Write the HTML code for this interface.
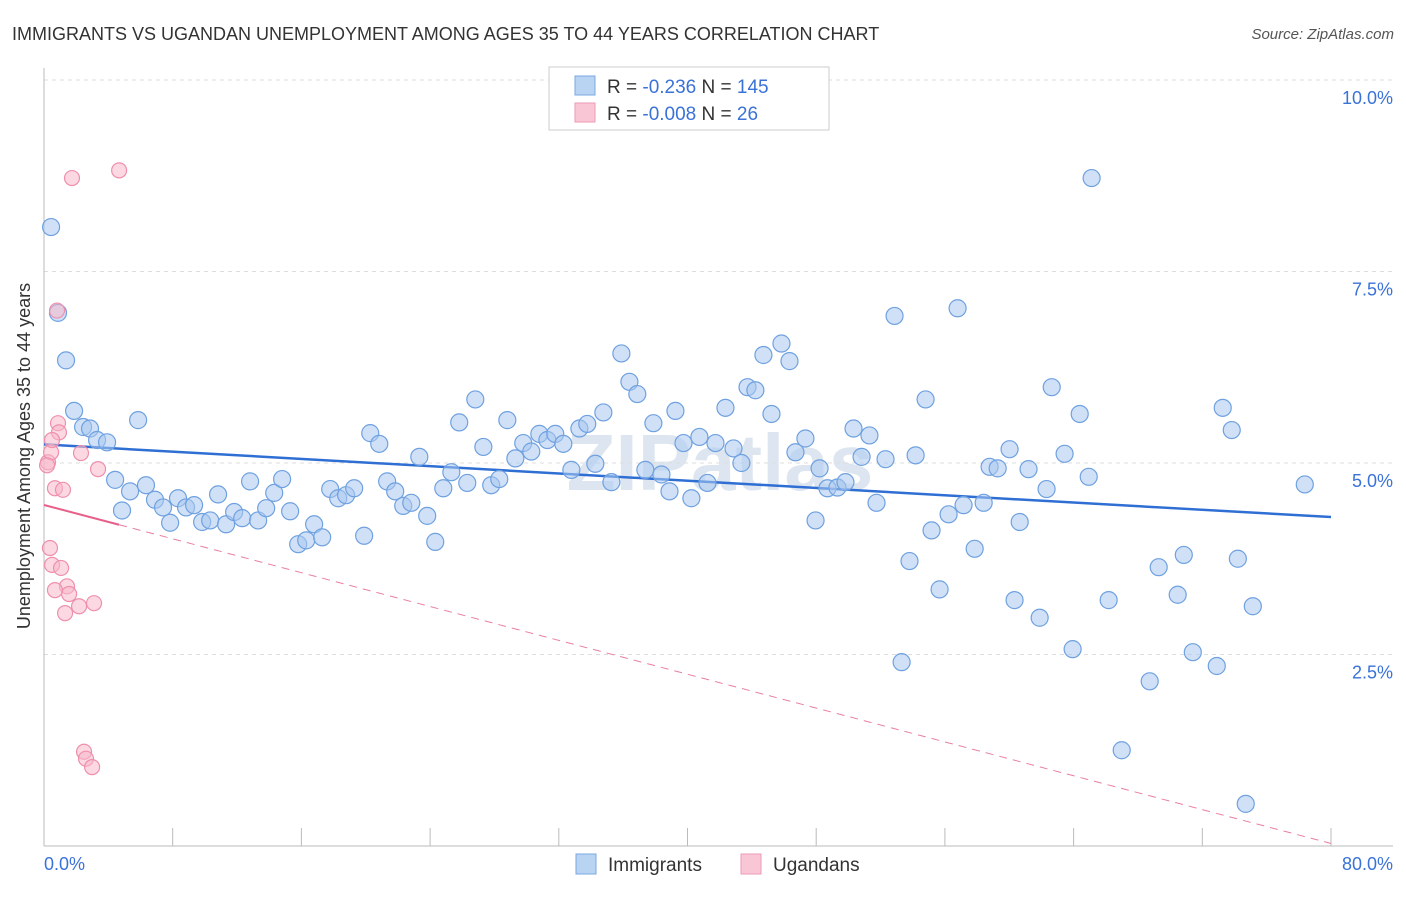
<!DOCTYPE html>
<html><head><meta charset="utf-8"><style>
body{margin:0;background:#fff;font-family:"Liberation Sans",sans-serif;}
</style></head><body>
<svg id="chart" width="1406" height="892" xmlns="http://www.w3.org/2000/svg" font-family="Liberation Sans, sans-serif">
<text x="12" y="40" font-size="18" fill="#333">IMMIGRANTS VS UGANDAN UNEMPLOYMENT AMONG AGES 35 TO 44 YEARS CORRELATION CHART</text>
<text x="1394" y="39" font-size="15" fill="#555" text-anchor="end" font-style="italic">Source: ZipAtlas.com</text>
<text x="30" y="456" font-size="18" fill="#333" text-anchor="middle" transform="rotate(-90 30 456)">Unemployment Among Ages 35 to 44 years</text>
<text x="720" y="490" font-size="80" fill="#dde6f0" text-anchor="middle" font-weight="bold">ZIPatlas</text>
<g id="grid"></g><g id="axes"></g><g id="trend"></g><g id="pts"></g>
<g>
<rect x="549" y="67" width="280" height="63" fill="#fff" stroke="#ccc"/>
<rect x="575" y="76" width="20" height="19" fill="#b9d3f3" stroke="#7aa8e0"/>
<text x="607" y="93" font-size="19" fill="#333">R = <tspan fill="#3a72d8">-0.236</tspan>   N = <tspan fill="#3a72d8">145</tspan></text>
<rect x="575" y="103" width="20" height="19" fill="#f9c6d5" stroke="#ef9ab5"/>
<text x="607" y="120" font-size="19" fill="#333">R = <tspan fill="#3a72d8">-0.008</tspan>   N =   <tspan fill="#3a72d8">26</tspan></text>
</g>
<g>
<rect x="576" y="854" width="20" height="20" fill="#b9d3f3" stroke="#7aa8e0"/>
<text x="608" y="871" font-size="19" fill="#333">Immigrants</text>
<rect x="741" y="854" width="20" height="20" fill="#f9c6d5" stroke="#ef9ab5"/>
<text x="773" y="871" font-size="19" fill="#333">Ugandans</text>
</g>
</svg>
<script>
const xTicks=[0,8,16,24,32,40,48,56,64,72,80];
const yTicks=[2.5,5,7.5,10];
const yTickLabels=["2.5%","5.0%","7.5%","10.0%"];
const xEndLabels=["0.0%","80.0%"];
const immX=[0.44,0.87,1.37,1.87,2.43,2.86,3.30,3.92,4.42,4.85,5.35,5.85,6.34,6.90,7.40,7.84,8.33,8.83,9.33,9.83,10.33,10.82,11.32,11.82,12.32,12.81,13.31,13.81,14.31,14.80,15.30,15.80,16.30,16.79,17.29,17.79,18.29,18.78,19.28,19.90,20.28,20.84,21.33,21.83,22.33,22.83,23.33,23.82,24.32,24.82,25.32,25.81,26.31,26.81,27.31,27.80,28.30,28.80,29.30,29.79,30.29,30.79,31.29,31.78,32.28,32.78,33.28,33.77,34.27,34.77,35.27,35.89,36.39,36.88,37.38,37.88,38.38,38.88,39.25,39.75,40.24,40.74,41.24,41.74,42.36,42.86,43.35,43.73,44.22,44.72,45.22,45.84,46.34,46.71,47.33,47.96,48.21,48.70,49.32,49.82,50.32,50.82,51.31,51.75,52.31,52.87,53.31,53.80,54.18,54.80,55.17,55.67,56.23,56.79,57.16,57.85,58.41,58.78,59.28,60.02,60.33,60.65,61.20,61.89,62.32,62.64,63.44,63.94,64.38,64.94,65.12,66.99,66.18,68.73,69.29,70.47,70.85,71.41,72.90,73.27,73.83,74.21,74.70,75.14,78.37];
const immY=[8.08,6.96,6.34,5.68,5.47,5.45,5.30,5.27,4.78,4.38,4.63,5.56,4.71,4.52,4.42,4.22,4.54,4.42,4.45,4.23,4.25,4.59,4.20,4.36,4.28,4.76,4.25,4.41,4.61,4.79,4.37,3.94,3.99,4.20,4.03,4.66,4.54,4.58,4.67,4.05,5.39,5.25,4.76,4.63,4.44,4.48,5.08,4.31,3.97,4.67,4.88,5.53,4.74,5.83,5.21,4.71,4.79,5.56,5.06,5.26,5.15,5.38,5.30,5.38,5.25,4.91,5.45,5.51,4.99,5.66,4.75,6.43,6.06,5.90,4.91,5.52,4.85,4.63,5.68,5.26,4.54,5.34,4.74,5.26,5.72,5.19,5.00,5.99,5.95,6.41,5.64,6.56,6.33,5.14,5.32,4.25,4.93,4.67,4.68,4.75,5.45,5.08,5.36,4.48,5.05,6.92,2.40,3.72,5.10,5.83,4.12,3.35,4.33,7.02,4.45,3.88,4.48,4.95,4.93,5.18,3.21,4.23,4.92,2.98,4.66,5.99,5.12,2.57,5.64,4.82,8.72,1.25,3.21,2.15,3.64,3.28,3.80,2.53,2.35,5.72,5.43,3.75,0.55,3.13,4.72];
const ugaX=[0.25,0.44,0.37,0.50,0.68,0.81,0.87,0.93,1.06,1.18,1.31,1.43,1.56,1.74,2.18,2.30,2.49,2.61,2.99,3.11,3.36,4.67,0.19,0.68,0.50];
const ugaY=[5.01,5.14,3.89,3.67,4.67,6.99,5.52,5.40,3.63,4.65,3.04,3.39,3.29,8.72,3.13,5.13,1.23,1.14,1.03,3.17,4.92,8.82,4.97,3.34,5.30];
const NS="http://www.w3.org/2000/svg";
const X0=44,X1=1331,Y0=846,YT=80;
const sx=v=>X0+(v-0)/(80-0)*(X1-X0);
const sy=v=>Y0-(v/10)*(Y0-YT);
function mk(tag,attrs,parent){const e=document.createElementNS(NS,tag);for(const k in attrs)e.setAttribute(k,attrs[k]);parent.appendChild(e);return e;}
const grid=document.getElementById('grid'),axes=document.getElementById('axes'),trend=document.getElementById('trend'),pts=document.getElementById('pts');
yTicks.forEach((t,i)=>{
 const l=mk('line',{x1:X0,x2:1393,y1:sy(t),y2:sy(t),stroke:'#ddd','stroke-dasharray':'4,4'},grid);
 
 
 const tx=mk('text',{x:1393,y:sy(t)+24,'font-size':18,fill:'#3a72d8','text-anchor':'end'},axes);
 tx.textContent=yTickLabels[i];
 
 
});
const ax=mk('line',{x1:X0,x2:X0,y1:68,y2:Y0,stroke:'#bbb'},axes);


const bx=mk('line',{x1:X0,x2:1393,y1:Y0,y2:Y0,stroke:'#bbb'},axes);


xTicks.forEach(t=>{
 const l=mk('line',{x1:sx(t),x2:sx(t),y1:828,y2:Y0,stroke:'#bbb'},axes);
 
 
});
const xl0=mk('text',{x:44,y:870,'font-size':18,fill:'#3a72d8'},axes);xl0.textContent=xEndLabels[0];


const xl1=mk('text',{x:1393,y:870,'font-size':18,fill:'#3a72d8','text-anchor':'end'},axes);xl1.textContent=xEndLabels[1];


function reg(xs,ys){const n=xs.length;let mx=0,my=0;for(let i=0;i<n;i++){mx+=xs[i];my+=ys[i];}mx/=n;my/=n;let a=0,b=0;for(let i=0;i<n;i++){a+=(xs[i]-mx)*(ys[i]-my);b+=(xs[i]-mx)**2;}const s=a/b;return {s,c:my-s*mx};}
immX.forEach((v,i)=>{
 const c=mk('circle',{cx:sx(v),cy:sy(immY[i]),r:8.5,fill:'rgba(169,200,240,0.55)',stroke:'#6fa1e0','stroke-width':1.2},pts);
 
 
});
ugaX.forEach((v,i)=>{
 const c=mk('circle',{cx:sx(v),cy:sy(ugaY[i]),r:7.5,fill:'rgba(247,184,203,0.55)',stroke:'#ef8fac','stroke-width':1.2},pts);
 
 
});
const r1=reg(immX,immY);
const t1=mk('line',{x1:sx(0),y1:sy(r1.c),x2:sx(80),y2:sy(r1.c+80*r1.s),stroke:'#2f6fd4','stroke-width':2.5},trend);


const r2=reg(ugaX,ugaY);const mxu=Math.max(...ugaX);
const t2=mk('line',{x1:sx(0),y1:sy(r2.c),x2:sx(mxu),y2:sy(r2.c+mxu*r2.s),stroke:'#e8608a','stroke-width':2},trend);


const t3=mk('line',{x1:sx(mxu),y1:sy(r2.c+mxu*r2.s),x2:sx(80),y2:sy(r2.c+80*r2.s),stroke:'#e8809f','stroke-width':1,'stroke-dasharray':'8,6'},trend);


</script>
</body></html>
